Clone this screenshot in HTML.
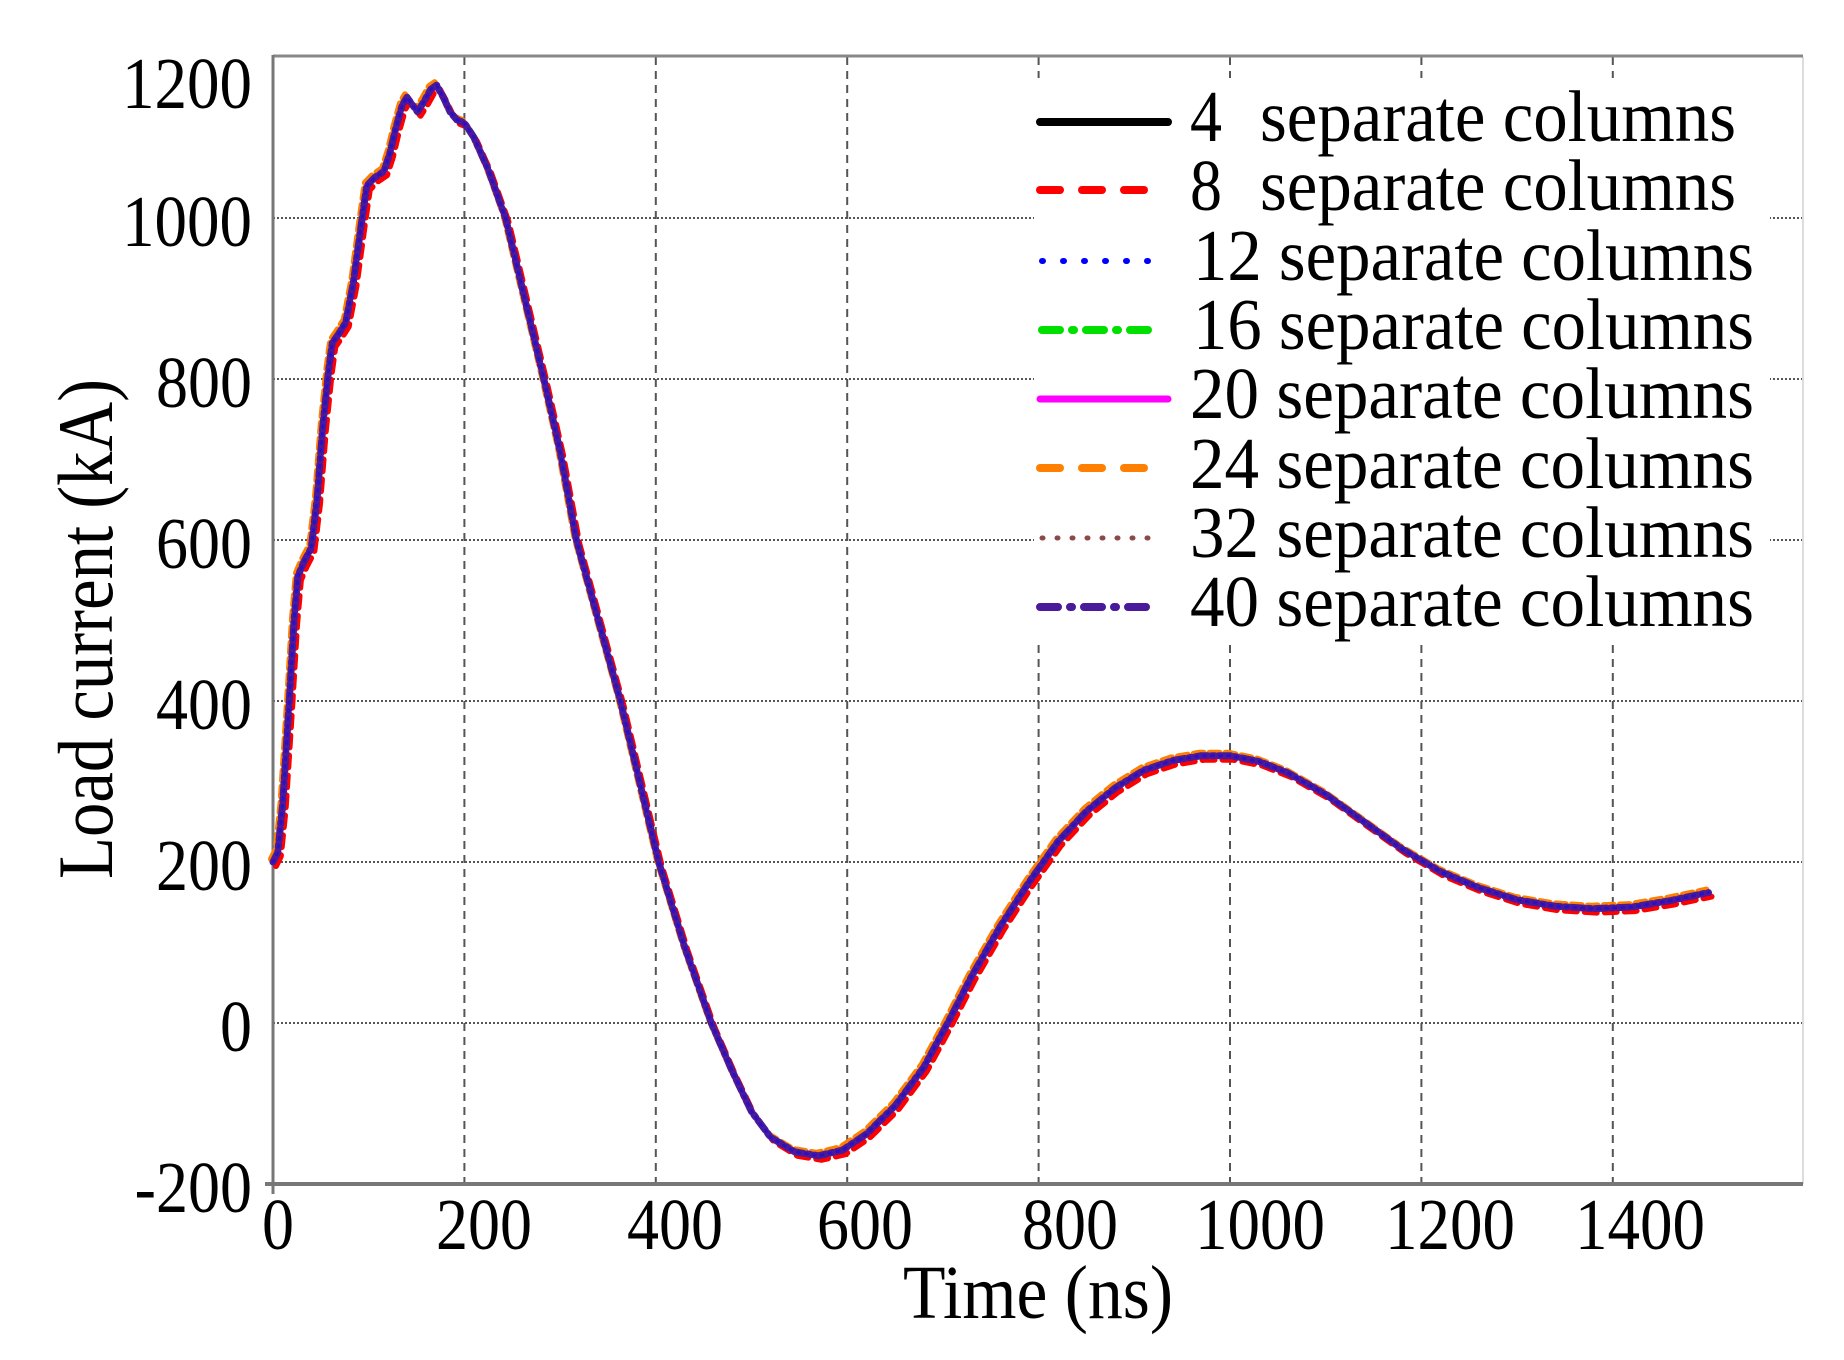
<!DOCTYPE html>
<html><head><meta charset="utf-8"><style>
html,body{margin:0;padding:0;background:#fff;}
svg{display:block;}
text{font-family:"Liberation Serif",serif;fill:#000;}
</style></head><body>
<svg width="1844" height="1360" viewBox="0 0 1844 1360" xmlns="http://www.w3.org/2000/svg">
<defs>
<polyline id="c" vector-effect="non-scaling-stroke" transform="matrix(0.957 0 0 -0.805 273 1023)"
points="0,200 5,212 10,270 17,400 22,500 26,555 32,572 40,590 46,650 52,740 58,810 62,845 68,855 76,870 84,920 92,990 98,1040 106,1050 116,1058 122,1080 128,1110 135,1140 140,1150 146,1140 151,1132 158,1145 165,1160 171,1165 178,1150 185,1132 192,1122 200,1118 210,1100 225,1060 243,1000 263,900 283,800 300,710 317,600 340,500 363,400 383,300 403,200 430,95 458,0 480,-60 500,-110 520,-142 545,-160 570,-165 595,-158 620,-138 650,-103 680,-55 705,0 730,58 760,120 790,175 820,225 850,263 880,292 910,314 940,326 970,332 1000,332 1030,325 1060,311 1100,284 1140,250 1180,216 1220,188 1260,168 1300,153 1340,145 1380,142 1420,144 1460,152 1500,162"/>
</defs>
<rect width="1844" height="1360" fill="#fff"/>
<g stroke="#555" stroke-width="2" stroke-dasharray="2,2">
<line x1="273" y1="1023" x2="1803" y2="1023"/>
<line x1="273" y1="862" x2="1803" y2="862"/>
<line x1="273" y1="701" x2="1803" y2="701"/>
<line x1="273" y1="540" x2="1803" y2="540"/>
<line x1="273" y1="379" x2="1803" y2="379"/>
<line x1="273" y1="218" x2="1803" y2="218"/>
</g>
<g stroke="#555" stroke-width="2" stroke-dasharray="8,6">
<line x1="464.4" y1="57" x2="464.4" y2="1184"/>
<line x1="655.8" y1="57" x2="655.8" y2="1184"/>
<line x1="847.2" y1="57" x2="847.2" y2="1184"/>
<line x1="1038.6" y1="57" x2="1038.6" y2="1184"/>
<line x1="1230" y1="57" x2="1230" y2="1184"/>
<line x1="1421.4" y1="57" x2="1421.4" y2="1184"/>
<line x1="1612.8" y1="57" x2="1612.8" y2="1184"/>
</g>
<line x1="1803" y1="57" x2="1803" y2="1184" stroke="#ddd" stroke-width="2"/>
<line x1="273" y1="56" x2="1803" y2="56" stroke="#888" stroke-width="3"/>
<line x1="273" y1="55" x2="273" y2="1194" stroke="#777" stroke-width="3"/>
<line x1="265" y1="1184" x2="1803" y2="1184" stroke="#777" stroke-width="4"/>
<rect x="1034" y="78" width="736" height="565" fill="#fff"/>
<g fill="none" stroke-linejoin="round" stroke-linecap="round" stroke-width="6">
<g transform="translate(-2,-3)"><use href="#c" stroke="#ff8000" stroke-dasharray="10,6"/></g>
<g transform="translate(3,4)"><use href="#c" stroke="#f00" stroke-dasharray="12,8"/></g>
<use href="#c" stroke="#ff00ff"/>
<use href="#c" stroke="#4a1a9a" stroke-width="7" stroke-dasharray="12,4,3,4"/>
<use href="#c" stroke="#2a10c0" stroke-width="3" stroke-dasharray="2,6"/>
</g>
<g stroke-width="8" stroke-linecap="round">
<line x1="1040" y1="122" x2="1168" y2="122" stroke="#000" stroke-width="8"/>
<line x1="1040" y1="190" x2="1150" y2="190" stroke="#f00" stroke-dasharray="20,22"/>
<line x1="1042" y1="261" x2="1148" y2="261" stroke="#00f" stroke-dasharray="1,20" stroke-width="6"/>
<line x1="1042" y1="330" x2="1150" y2="330" stroke="#00e000" stroke-dasharray="18,12,2,12"/>
<line x1="1040" y1="399" x2="1168" y2="399" stroke="#ff00ff" stroke-width="7"/>
<line x1="1040" y1="468" x2="1150" y2="468" stroke="#ff8000" stroke-dasharray="20,22"/>
<line x1="1042" y1="538" x2="1148" y2="538" stroke="#8b4a4a" stroke-dasharray="1,14" stroke-width="5"/>
<line x1="1040" y1="607" x2="1150" y2="607" stroke="#4a1a9a" stroke-dasharray="18,12,2,12"/>
</g>
<g font-size="64" transform="scale(1,1.15)">
<text x="1190" y="122.6">4</text><text x="1260" y="122.6" textLength="476" lengthAdjust="spacingAndGlyphs">separate columns</text>
<text x="1190" y="182.6">8</text><text x="1260" y="182.6" textLength="476" lengthAdjust="spacingAndGlyphs">separate columns</text>
<text x="1193" y="243.5" textLength="561" lengthAdjust="spacingAndGlyphs">12 separate columns</text>
<text x="1193" y="303.5" textLength="561" lengthAdjust="spacingAndGlyphs">16 separate columns</text>
<text x="1190" y="363.5" textLength="564" lengthAdjust="spacingAndGlyphs">20 separate columns</text>
<text x="1190" y="424.3" textLength="564" lengthAdjust="spacingAndGlyphs">24 separate columns</text>
<text x="1190" y="484.3" textLength="564" lengthAdjust="spacingAndGlyphs">32 separate columns</text>
<text x="1190" y="544.3" textLength="564" lengthAdjust="spacingAndGlyphs">40 separate columns</text>
</g>
<g font-size="64" text-anchor="end" transform="scale(1,1.15)">
<text x="252" y="93.9" textLength="130" lengthAdjust="spacingAndGlyphs">1200</text>
<text x="252" y="213.9" textLength="130" lengthAdjust="spacingAndGlyphs">1000</text>
<text x="252" y="353.9">800</text>
<text x="252" y="493.9">600</text>
<text x="252" y="633.9">400</text>
<text x="252" y="773.9">200</text>
<text x="252" y="913.9">0</text>
<text x="252" y="1053.9">-200</text>
</g>
<g font-size="64" text-anchor="middle" transform="scale(1,1.15)">
<text x="278" y="1086.1">0</text>
<text x="484" y="1086.1">200</text>
<text x="675" y="1086.1">400</text>
<text x="865" y="1086.1">600</text>
<text x="1070" y="1086.1">800</text>
<text x="1260" y="1086.1" textLength="130" lengthAdjust="spacingAndGlyphs">1000</text>
<text x="1450" y="1086.1" textLength="130" lengthAdjust="spacingAndGlyphs">1200</text>
<text x="1640" y="1086.1" textLength="130" lengthAdjust="spacingAndGlyphs">1400</text>
<text x="1038" y="1146.1" font-size="66" textLength="270" lengthAdjust="spacingAndGlyphs">Time (ns)</text>
</g>
<text transform="translate(112,629) rotate(-90) scale(1,1.15)" font-size="68" text-anchor="middle" textLength="500" lengthAdjust="spacingAndGlyphs">Load current (kA)</text>
</svg>
</body></html>
